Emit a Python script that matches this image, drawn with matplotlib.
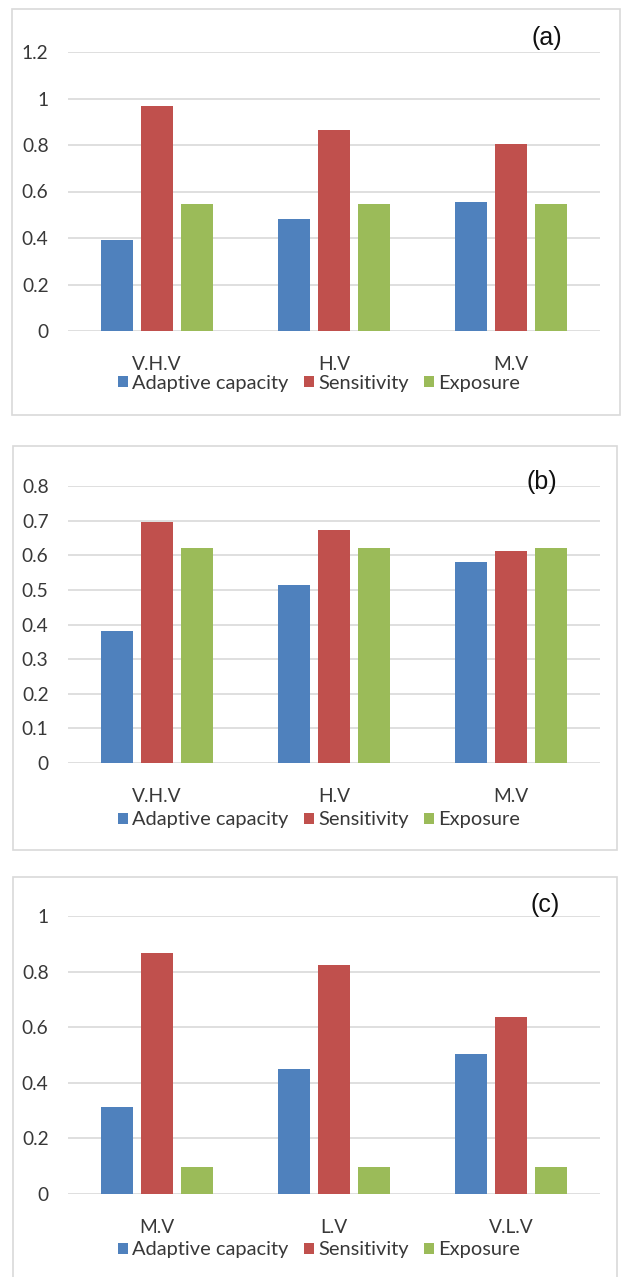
import matplotlib
matplotlib.use("Agg")
import matplotlib.pyplot as plt
from matplotlib.patches import Rectangle, Patch
import numpy as np

# ---- data -------------------------------------------------------------
series_names = ["Adaptive capacity", "Sensitivity", "Exposure"]
series_colors = ["#4F81BD", "#C0504D", "#9BBB59"]

cats_a = ["V.H.V", "H.V", "M.V"]
adaptive_a = [0.39, 0.48, 0.553]
sensitivity_a = [0.966, 0.866, 0.804]
exposure_a = [0.545, 0.545, 0.545]

cats_b = ["V.H.V", "H.V", "M.V"]
adaptive_b = [0.38, 0.514, 0.581]
sensitivity_b = [0.696, 0.673, 0.611]
exposure_b = [0.62, 0.62, 0.62]

cats_c = ["M.V", "L.V", "V.L.V"]
adaptive_c = [0.314, 0.448, 0.505]
sensitivity_c = [0.867, 0.825, 0.637]
exposure_c = [0.098, 0.098, 0.098]

yticks_a = [0, 0.2, 0.4, 0.6, 0.8, 1.0, 1.2]
yticks_b = [0, 0.1, 0.2, 0.3, 0.4, 0.5, 0.6, 0.7, 0.8]
yticks_c = [0, 0.2, 0.4, 0.6, 0.8, 1.0]

# ---- figure -----------------------------------------------------------
W, H = 627, 1277
fig = plt.figure(figsize=(W / 100, H / 100), dpi=100)
fig.patch.set_facecolor("white")

FONT = "Lato"
FS = 13.8
LFS = 14.4
TXT = "#383838"
GRID = "#D9D9D9"


def fx(x):
    return x / W


def fy(y):
    return 1 - y / H


def panel(box, axbox, cats, values, yticks, tag, tag_xy, legend_y):
    # outer frame of the chart area
    bx0, by0, bx1, by1 = box
    fig.add_artist(Rectangle((fx(bx0), fy(by1)), fx(bx1) - fx(bx0), fy(by0) - fy(by1),
                             transform=fig.transFigure, fill=False,
                             edgecolor=GRID, linewidth=1.2))
    x0, y0, x1, y1 = axbox
    ax = fig.add_axes([fx(x0), fy(y1), fx(x1) - fx(x0), fy(y0) - fy(y1)])
    x = np.arange(len(cats))
    width = 0.18
    step = 0.2256
    for i, (vals, col) in enumerate(zip(values, series_colors)):
        ax.bar(x + (i - 1) * step, vals, width=width, color=col, zorder=3,
               label=series_names[i])
    ax.set_xlim(-0.5, len(cats) - 0.5)
    ax.set_ylim(yticks[0], yticks[-1])
    ax.set_yticks(yticks)
    ax.set_yticklabels([f"{v:g}" for v in yticks], fontname=FONT, fontsize=FS,
                       color=TXT)
    ax.set_xticks(x)
    ax.set_xticklabels(cats, fontname=FONT, fontsize=FS, color=TXT)
    ax.tick_params(axis="y", length=0, pad=14)
    ax.tick_params(axis="x", length=0, pad=18)
    ax.grid(axis="y", color=GRID, linewidth=1.2, zorder=0)
    for s in ax.spines.values():
        s.set_visible(False)
    ax.set_axisbelow(True)
    fig.text(fx(tag_xy[0]), fy(tag_xy[1]), tag, fontname="Liberation Sans",
             fontsize=18, ha="center", va="center", color="#111111")
    handles = [Patch(facecolor=c, edgecolor="none") for c in series_colors]
    leg = fig.legend(handles, series_names, loc="center",
                     bbox_to_anchor=(fx(319), fy(legend_y)), ncol=3,
                     frameon=False, prop={"family": FONT, "size": LFS},
                     handlelength=0.5, handleheight=0.5, handletextpad=0.2,
                     columnspacing=0.8, borderpad=0, borderaxespad=0)
    for t in leg.get_texts():
        t.set_color(TXT)
    return ax


panel((12, 9, 620, 415), (68, 52, 600, 331), cats_a,
      [adaptive_a, sensitivity_a, exposure_a], yticks_a, "(a)", (547, 38), 383)
panel((13, 446, 617, 850), (68, 486, 600, 763), cats_b,
      [adaptive_b, sensitivity_b, exposure_b], yticks_b, "(b)", (542, 482), 820)
panel((13, 877, 617, 1290), (68, 916, 600, 1194), cats_c,
      [adaptive_c, sensitivity_c, exposure_c], yticks_c, "(c)", (545, 905), 1250)

fig.savefig("out.png", dpi=100, facecolor="white")
